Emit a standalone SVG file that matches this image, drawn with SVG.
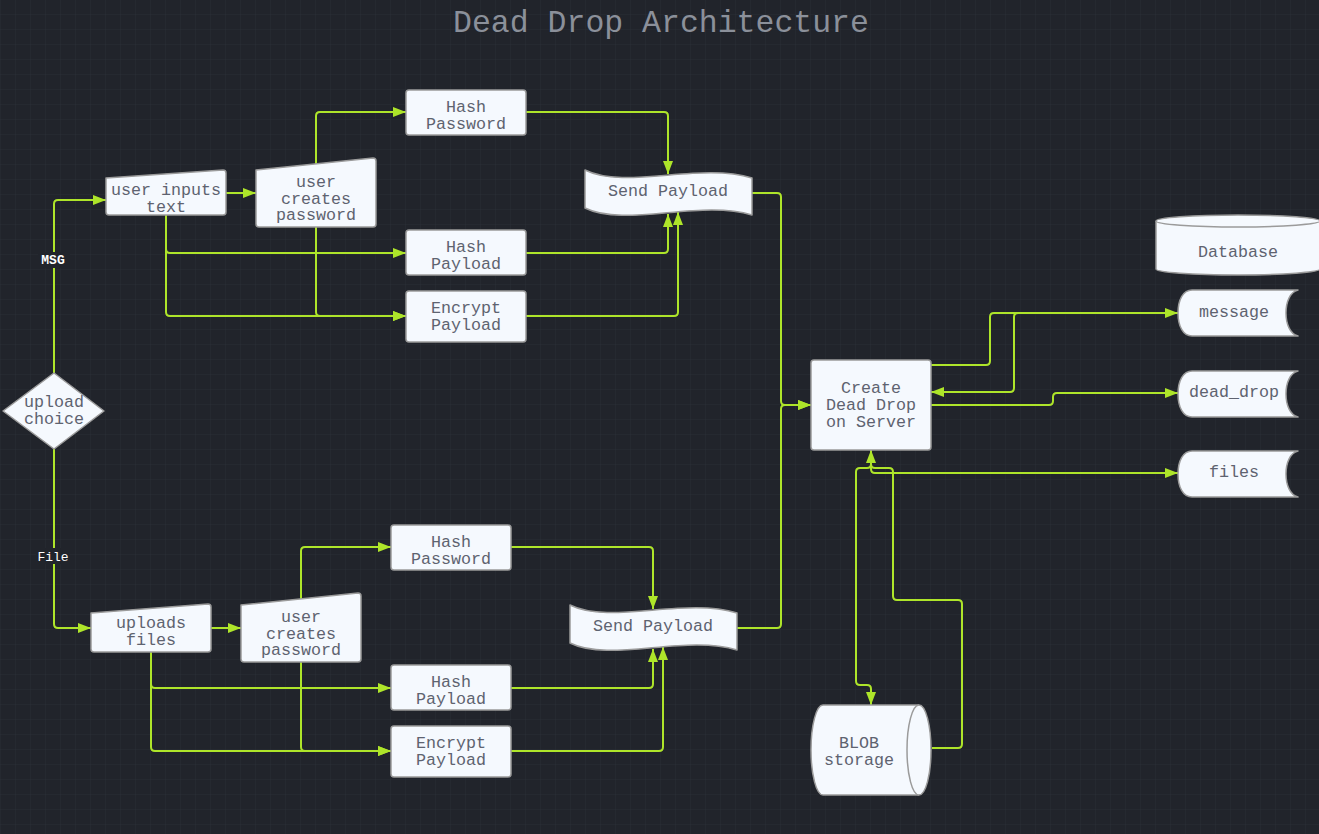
<svg xmlns="http://www.w3.org/2000/svg" width="1319" height="834" viewBox="0 0 1319 834">
<defs>
<pattern id="grid" width="15" height="15" patternUnits="userSpaceOnUse" x="0" y="14">
<path d="M15,0 L0,0 L0,15" fill="none" stroke="#2a2e36" stroke-width="1"/>
</pattern>
<marker id="ah" viewBox="0 0 13 10" refX="13" refY="5" markerWidth="13" markerHeight="10" markerUnits="userSpaceOnUse" orient="auto">
<path d="M0,0 L13,5 L0,10 z" fill="#aee52a"/>
</marker>
<style>
.n{fill:#f5f9fe;stroke:#9b9b9b;stroke-width:1.5;stroke-linejoin:round}
.t{font-family:"Liberation Mono",monospace;font-size:16.7px;fill:#5e6370;text-anchor:middle}
.c{fill:none;stroke:#aee52a;stroke-width:2;marker-end:url(#ah)}
.cn{fill:none;stroke:#aee52a;stroke-width:2}
.lbl{font-family:"Liberation Mono",monospace;font-size:13px;fill:#ffffff;text-anchor:middle}
</style>
</defs>
<rect width="1319" height="834" fill="#21242b"/>
<rect width="1319" height="834" fill="url(#grid)"/>
<text x="661" y="32" font-family="'Liberation Mono',monospace" font-size="31.5" fill="#8b909a" text-anchor="middle">Dead Drop Architecture</text>

<g id="connectors">
<path class="c" d="M54,373 L54,204 Q54,200 58,200 L106,200"/>
<path class="c" d="M54,449 L54,624 Q54,628 58,628 L91,628"/>
<path class="c" d="M226,193 L256,193"/>
<path class="c" d="M316,164 L316,116 Q316,112 320,112 L406,112"/>
<path class="c" d="M166,215 L166,249 Q166,253 170,253 L406,253"/>
<path class="c" d="M166,215 L166,312 Q166,316 170,316 L406,316"/>
<path class="c" d="M316,227 L316,312 Q316,316 320,316 L406,316"/>
<path class="c" d="M526,112 L664,112 Q668,112 668,116 L668,174"/>
<path class="c" d="M526,253 L664,253 Q668,253 668,249 L668,214"/>
<path class="c" d="M526,316 L674,316 Q678,316 678,312 L678,212"/>
<path class="c" d="M752,193 L777,193 Q781,193 781,197 L781,401 Q781,405 785,405 L811,405"/>
<path class="c" d="M737,628 L777,628 Q781,628 781,624 L781,409 Q781,405 785,405 L811,405"/>
<path class="c" d="M301,600 L301,551 Q301,547 305,547 L391,547"/>
<path class="c" d="M151,650 L151,684 Q151,688 155,688 L391,688"/>
<path class="c" d="M151,650 L151,747 Q151,751 155,751 L391,751"/>
<path class="c" d="M301,662 L301,747 Q301,751 305,751 L391,751"/>
<path class="c" d="M211,628 L241,628"/>
<path class="c" d="M511,547 L649,547 Q653,547 653,551 L653,609"/>
<path class="c" d="M511,688 L649,688 Q653,688 653,684 L653,649"/>
<path class="c" d="M511,751 L659,751 Q663,751 663,747 L663,647"/>
<path class="c" d="M931,365 L986,365 Q990,365 990,361 L990,317 Q990,313 994,313 L1178,313"/>
<path class="c" d="M1178,313 L1018,313 Q1014,313 1014,317 L1014,388 Q1014,392 1010,392 L931,392"/>
<path class="c" d="M931,405 L1049,405 Q1053,405 1053,401 L1053,397 Q1053,393 1057,393 L1178,393"/>
<path class="c" d="M871,450 L871,469 Q871,473 875,473 L1178,473"/>
<path class="c" d="M871,450 L871,464 Q871,468 867,468 L860,468 Q856,468 856,472 L856,681 Q856,685 860,685 L867,685 Q871,685 871,689 L871,705"/>
<path class="c" d="M932,748 L958,748 Q962,748 962,744 L962,604 Q962,600 958,600 L897,600 Q893,600 893,596 L893,472 Q893,468 889,468 L875,468 Q871,468 871,464 L871,450"/>
<rect x="38" y="252" width="32" height="16" fill="#21242b"/>
<text class="lbl" x="53" y="264" font-weight="bold">MSG</text>
<rect x="36" y="548" width="34" height="16" fill="#21242b"/>
<text class="lbl" x="53" y="561">File</text>
</g>

<g id="upload-choice">
<polygon class="n" points="54,373 104,411 54,449 3,411"/>
<text class="t" x="54" y="407">upload</text>
<text class="t" x="54" y="424">choice</text>
</g>

<g id="user-inputs-text">
<path class="n" d="M106,178 L223,170 Q226,170 226,173 L226,212 Q226,215 223,215 L109,215 Q106,215 106,212 Z"/>
<text class="t" x="166" y="195">user inputs</text>
<text class="t" x="166" y="212">text</text>
</g>

<g id="user-creates-password-1">
<path class="n" d="M256,170 L373,158 Q376,158 376,161 L376,224 Q376,227 373,227 L259,227 Q256,227 256,224 Z"/>
<text class="t" x="316" y="187">user</text>
<text class="t" x="316" y="204">creates</text>
<text class="t" x="316" y="220">password</text>
</g>

<g id="hash-password-1">
<rect class="n" x="406" y="90" width="120" height="45" rx="3"/>
<text class="t" x="466" y="112">Hash</text>
<text class="t" x="466" y="129">Password</text>
</g>

<g id="hash-payload-1">
<rect class="n" x="406" y="230" width="120" height="45" rx="3"/>
<text class="t" x="466" y="252">Hash</text>
<text class="t" x="466" y="269">Payload</text>
</g>

<g id="encrypt-payload-1">
<rect class="n" x="406" y="291" width="120" height="51" rx="3"/>
<text class="t" x="466" y="313">Encrypt</text>
<text class="t" x="466" y="330">Payload</text>
</g>

<g id="send-payload-1">
<path class="n" d="M585,170 C625,190 700,162 752,178 L752,215 C700,199 625,228 585,208 Z"/>
<text class="t" x="668" y="196">Send Payload</text>
</g>

<g id="uploads-files">
<path class="n" d="M91,613 L208,604 Q211,604 211,607 L211,649 Q211,652 208,652 L94,652 Q91,652 91,649 Z"/>
<text class="t" x="151" y="628">uploads</text>
<text class="t" x="151" y="645">files</text>
</g>

<g id="user-creates-password-2">
<path class="n" d="M241,605 L358,593 Q361,593 361,596 L361,659 Q361,662 358,662 L244,662 Q241,662 241,659 Z"/>
<text class="t" x="301" y="622">user</text>
<text class="t" x="301" y="639">creates</text>
<text class="t" x="301" y="655">password</text>
</g>

<g id="hash-password-2">
<rect class="n" x="391" y="525" width="120" height="45" rx="3"/>
<text class="t" x="451" y="547">Hash</text>
<text class="t" x="451" y="564">Password</text>
</g>

<g id="hash-payload-2">
<rect class="n" x="391" y="665" width="120" height="45" rx="3"/>
<text class="t" x="451" y="687">Hash</text>
<text class="t" x="451" y="704">Payload</text>
</g>

<g id="encrypt-payload-2">
<rect class="n" x="391" y="726" width="120" height="51" rx="3"/>
<text class="t" x="451" y="748">Encrypt</text>
<text class="t" x="451" y="765">Payload</text>
</g>

<g id="send-payload-2">
<path class="n" d="M570,605 C610,625 685,597 737,613 L737,650 C685,634 610,663 570,643 Z"/>
<text class="t" x="653" y="631">Send Payload</text>
</g>

<g id="create-dead-drop">
<rect class="n" x="811" y="360" width="120" height="90" rx="3"/>
<text class="t" x="871" y="393">Create</text>
<text class="t" x="871" y="410">Dead Drop</text>
<text class="t" x="871" y="427">on Server</text>
</g>

<g id="database">
<path class="n" d="M1156,221 L1156,269 A82,6 0 0 0 1320,269 L1320,221 A82,6 0 0 0 1156,221 Z"/>
<path class="n" d="M1156,221 A82,6 0 0 0 1320,221" fill="none"/>
<text class="t" x="1238" y="257">Database</text>
</g>

<g id="message">
<path class="n" d="M1192,290 L1298,290 C1290,292 1286,302 1286,313 C1286,324 1290,334 1298,336 L1192,336 C1183,336 1178,326 1178,313 C1178,300 1183,290 1192,290 Z"/>
<text class="t" x="1234" y="317">message</text>
</g>

<g id="dead-drop">
<path class="n" d="M1192,371 L1298,371 C1290,373 1286,383 1286,394 C1286,405 1290,415 1298,417 L1192,417 C1183,417 1178,407 1178,394 C1178,381 1183,371 1192,371 Z"/>
<text class="t" x="1234" y="397">dead_drop</text>
</g>

<g id="files">
<path class="n" d="M1192,451 L1298,451 C1290,453 1286,463 1286,474 C1286,485 1290,495 1298,497 L1192,497 C1183,497 1178,487 1178,474 C1178,461 1183,451 1192,451 Z"/>
<text class="t" x="1234" y="477">files</text>
</g>

<g id="blob-storage">
<path class="n" d="M823,705 L919,705 A12,45 0 0 1 919,795 L823,795 A12,45 0 0 1 823,705 Z"/>
<path class="n" d="M919,705 A12,45 0 0 0 919,795" fill="none"/>
<text class="t" x="859" y="748">BLOB</text>
<text class="t" x="859" y="765">storage</text>
</g>
</svg>
